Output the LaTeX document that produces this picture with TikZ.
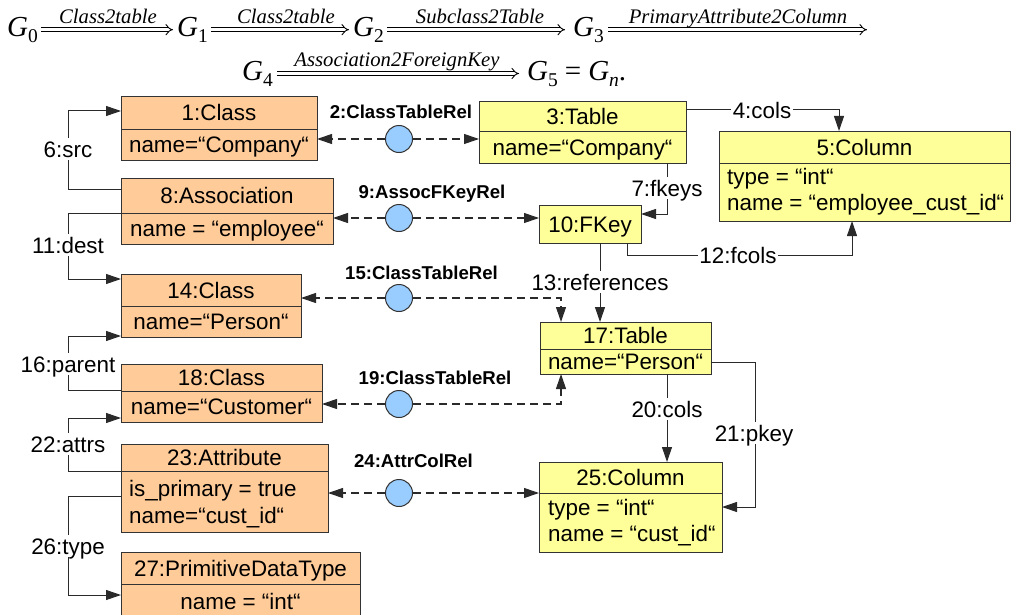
\documentclass[tikz,border=0pt]{standalone}
\usepackage{fontspec}
\setmainfont{Liberation Serif}
\newfontfamily\arial{Liberation Sans}
\usetikzlibrary{arrows.meta}
\definecolor{orangefill}{HTML}{FFCC99}
\definecolor{yellowfill}{HTML}{FFFF99}
\definecolor{bluefill}{HTML}{99CCFF}
\definecolor{boxline}{HTML}{333333}
\definecolor{conline}{HTML}{2A2A2A}
\newcommand\mkbox[8]{%
  \node[umlbox, fill=#7, minimum width={#4-#2}, minimum height={#5-#3}, anchor=north west] (#1) at (#2,#3) {};
  \draw[draw=boxline, line width=0.9pt] (#2,#6) -- (#4,#6);
  \node[txt] (#1-t) at ({(#2+#4)/2},{(#3+#6)/2}) {#8};
}
\newcommand\subnum[1]{\raisebox{-6pt}{\fontsize{19.5}{19.5}\selectfont #1}}
\begin{document}
\begin{tikzpicture}[x=1pt,y=-1pt,
  umlbox/.style={draw=boxline, line width=1pt, inner sep=0pt, outer sep=0pt},
  txt/.style={font=\arial\fontsize{22.4}{26}\selectfont, text height=16pt, text depth=0pt, inner sep=0pt},
  elbl/.style={txt, fill=white, inner xsep=1.5pt, inner ysep=3pt},
  rlbl/.style={font=\arial\bfseries\fontsize{18.6}{22}\selectfont, text height=13.3pt, text depth=0pt, inner sep=0pt},
  conn/.style={draw=conline, line width=1pt, -{Triangle[length=15pt,width=10pt]}},
  dconn/.style={conn, line width=1.1pt, dash pattern=on 8pt off 5pt},
  relc/.style={circle, draw=boxline, line width=1pt, fill=bluefill, minimum size=27pt, inner sep=0pt},
  eqG/.style={font=\fontsize{29}{32}\selectfont\itshape, inner sep=0pt, anchor=base west},
  eqlbl/.style={font=\fontsize{20.7}{24}\selectfont\itshape, inner sep=0pt, anchor=base},
  darrow/.style={double, double distance=3pt, line width=0.9pt, -{Implies}},
]
\useasboundingbox (0,0) rectangle (1011,615);

% ---------- equation ----------
\node[eqG] (g0) at (7,37) {G\subnum{\upshape 0}};
\node[eqG] (g1) at (177,37) {G\subnum{\upshape 1}};
\node[eqG] (g2) at (353,37) {G\subnum{\upshape 2}};
\node[eqG] (g3) at (573,37) {G\subnum{\upshape 3}};
\coordinate (g3end) at (867,29.7);
\node[eqG] (g4) at (242,81) {G\subnum{\upshape 4}};
\node[eqG] (g5) at (527,81) {G\subnum{\upshape 5}\hspace{7pt}{\upshape =}\hspace{7pt}G\subnum{n}{\upshape .}};
\draw[darrow, shorten <=3pt, shorten >=4pt] (g0.east |- 0,29.7) -- (g1.west |- 0,29.7);
\draw[darrow, shorten <=3pt, shorten >=4pt] (g1.east |- 0,29.7) -- (g2.west |- 0,29.7);
\draw[darrow, shorten <=3pt, shorten >=8pt] (g2.east |- 0,29.7) -- (g3.west |- 0,29.7);
\draw[darrow, shorten <=4pt] (g3.east |- 0,29.7) -- (g3end);
\draw[darrow, shorten <=4pt, shorten >=8pt] (g4.east |- 0,73.5) -- (g5.west |- 0,73.5);
\node[eqlbl] (q1) at (108,24) {Class2table};
\node[eqlbl] (q2) at (286,24) {Class2table};
\node[eqlbl] (q3) at (480,24) {Subclass2Table};
\node[eqlbl] (q4) at (738,24) {PrimaryAttribute2Column};
\node[eqlbl] (q5) at (397,67) {Association2ForeignKey};

% ---------- boxes ----------
\mkbox{c1}{121}{97}{317}{160}{129}{orangefill}{1:Class}
\node[txt] (c1-a) at (219,144.5) {name=“Company“};
\mkbox{a8}{121}{178}{333}{244}{213}{orangefill}{8:Association}
\node[txt] (a8-a) at (227,228.5) {name = “employee“};
\mkbox{c14}{121}{274}{301}{337}{306}{orangefill}{14:Class}
\node[txt] (c14-a) at (211,321.5) {name=“Person“};
\mkbox{c18}{121}{364}{322}{422}{391}{orangefill}{18:Class}
\node[txt] (c18-a) at (221.5,406.5) {name=“Customer“};
\mkbox{at23}{121}{444}{328}{532}{471}{orangefill}{23:Attribute}
\node[txt, anchor=west] (at23-a) at (129,488) {is\_primary = true};
\node[txt, anchor=west] (at23-b) at (129,515) {name=“cust\_id“};
\mkbox{p27}{121}{552}{360}{632}{584}{orangefill}{27:PrimitiveDataType}
\node[txt] (p27-a) at (240.5,601) {name = “int“};

\mkbox{t3}{479}{102}{686}{163}{131}{yellowfill}{3:Table}
\node[txt] (t3-a) at (582.5,147) {name=“Company“};
\mkbox{col5}{719}{131}{1010}{221}{163}{yellowfill}{5:Column}
\node[txt, anchor=west] (col5-a) at (727,176) {type = “int“};
\node[txt, anchor=west] (col5-b) at (727,202) {name = “employee\_cust\_id“};
\node[umlbox, fill=yellowfill, minimum width=102, minimum height=38, anchor=north west] (fk10) at (539,205) {};
\node[txt] (fk10-t) at (590,224) {10:FKey};
\mkbox{t17}{540}{322}{711}{374}{349}{yellowfill}{17:Table}
\node[txt] (t17-a) at (625.5,361.5) {name=“Person“};
\mkbox{col25}{539}{462}{722}{552}{493}{yellowfill}{25:Column}
\node[txt, anchor=west] (col25-a) at (548,507) {type = “int“};
\node[txt, anchor=west] (col25-b) at (548,533) {name = “cust\_id“};

% ---------- left connectors ----------
\draw[conn] (a8.west |- 0,189) -- (68,189) |- (c1.west |- 0,111);
\node[elbl] (l6) at (68,149) {6:src};
\draw[conn] (a8.west |- 0,213) -- (68,213) |- (c14.west |- 0,279);
\node[elbl] (l11) at (68,245) {11:dest};
\draw[conn] (c18.west |- 0,390) -- (68,390) |- (c14.west |- 0,336);
\node[elbl] (l16) at (68,364) {16:parent};
\draw[conn] (at23.west |- 0,471) -- (68,471) |- (c18.west |- 0,418);
\node[elbl] (l22) at (68,444) {22:attrs};
\draw[conn] (at23.west |- 0,496) -- (68,496) |- (p27.west |- 0,595);
\node[elbl] (l26) at (68,546) {26:type};

% ---------- right connectors ----------
\draw[conn] (t3.east |- 0,110) -| (839,0 |- col5.north);
\node[elbl] (l4) at (762,110) {4:cols};
\draw[conn] (667,0 |- t3.south) |- (fk10.east |- 0,214);
\node[elbl] (l7) at (667,188) {7:fkeys};
\draw[conn] (627,0 |- fk10.south) |- (852,255) -- (852,0 |- col5.south);
\node[elbl] (l12) at (738,255) {12:fcols};
\draw[conn] (600,0 |- fk10.south) -- (600,0 |- t17.north);
\node[elbl] (l13) at (600,282) {13:references};
\draw[conn] (667,0 |- t17.south) -- (667,0 |- col25.north);
\node[elbl] (l20) at (667,409) {20:cols};
\draw[conn] (t17.east |- 0,362) -- (755,362) |- (col25.east |- 0,507);
\node[elbl] (l21) at (754,433) {21:pkey};

% ---------- correspondence relations ----------
\node[relc] (e2) at (399,139) {};
\draw[dconn] (e2) -- (c1.east |- e2);
\draw[dconn] (e2) -- (t3.west |- e2);
\node[rlbl] (r2) at (401,112) {2:ClassTableRel};

\node[relc] (e9) at (399,218) {};
\draw[dconn] (e9) -- (a8.east |- e9);
\draw[dconn] (e9) -- (fk10.west |- e9);
\node[rlbl] (r9) at (432,192) {9:AssocFKeyRel};

\node[relc] (e15) at (399,298) {};
\draw[dconn] (e15) -- (c14.east |- e15);
\draw[dconn] (e15) -- (561,298) -- (561,0 |- t17.north);
\node[rlbl] (r15) at (421.5,273) {15:ClassTableRel};

\node[relc] (e19) at (399,404) {};
\draw[dconn] (e19) -- (c18.east |- e19);
\draw[dconn] (e19) -- (561,404) -- (561,0 |- t17.south);
\node[rlbl] (r19) at (435,378) {19:ClassTableRel};

\node[relc] (e24) at (399,493) {};
\draw[dconn] (e24) -- (at23.east |- e24);
\draw[dconn] (e24) -- (col25.west |- e24);
\node[rlbl] (r24) at (413.5,461) {24:AttrColRel};
\end{tikzpicture}
\end{document}
